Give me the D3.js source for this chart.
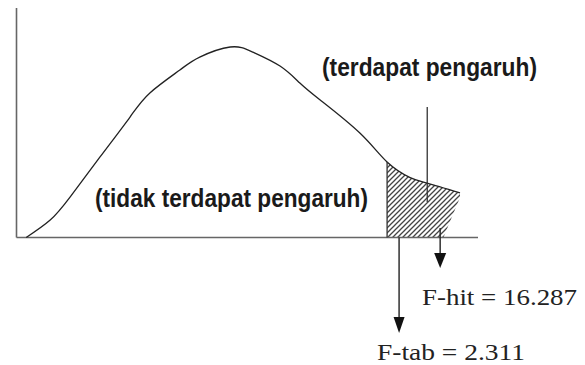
<!DOCTYPE html>
<html>
<head>
<meta charset="utf-8">
<script src="https://cdn.jsdelivr.net/npm/d3@7"></script>
<style>
  body { margin: 0; background: #fff; }
  svg { display: block; }
</style>
</head>
<body>
<div class="chart"></div>
<script>
// curve (x = position on the F axis, y = density, 0..100)
const CURVE_X = [0.21, 0.73, 1.16, 1.81, 2.46, 2.89, 3.54, 3.97, 4.63, 5.12, 5.71, 6.14, 6.58, 7.44, 8.03, 8.53, 8.90, 9.61];
const CURVE_Y = [0, 7.6, 17.6, 35.1, 52.5, 63.0, 73.0, 78.6, 83.0, 80.8, 74.7, 67.3, 59.9, 45.5, 32.9, 26.1, 23.7, 19.4];
const X_DOMAIN = [0, 10];
const Y_DOMAIN = [0, 100];

// critical value (start of hatched area), where the hatching stops, and the arrows
const F_CRIT_X = 8.03;
const HATCH_END = {top: 9.65, bottom: 9.25};
const F_TAB_ARROW = {x: 8.29, from: 0, to: -41.6};
const F_HIT_ARROW = {x: 9.18, from: 4.1, to: -13.3};
const POINTER_LINE = {x: 8.90, from: 56.9, to: 15.5};

const LABEL_ACCEPT = '(tidak terdapat pengaruh)';
const LABEL_REJECT = '(terdapat pengaruh)';
const LABEL_F_HIT = 'F-hit = 16.287';
const LABEL_F_TAB = 'F-tab = 2.311';

var width = 585, height = 365;

var svg = d3.select('.chart')
            .append('svg')
            .attr('width', width)
            .attr('height', height);

var x = d3.scaleLinear()
          .domain(X_DOMAIN)
          .range([16.5, 478]);

var y = d3.scaleLinear()
          .domain(Y_DOMAIN)
          .range([237.5, 8]);

var curveData = CURVE_X.map((d, i) => ({x: d, y: CURVE_Y[i]}));

var defs = svg.append('defs');

// hatch pattern for the rejection area
defs.append('pattern')
    .attr('id', 'hatch')
    .attr('patternUnits', 'userSpaceOnUse')
    .attr('width', 5)
    .attr('height', 5)
    .append('path')
    .attr('d', 'M-1,1 l2,-2 M0,5 l5,-5 M4,6 l2,-2')
    .attr('stroke', '#444')
    .attr('stroke-width', 1.3);

// only the tail right of the critical value gets hatched
defs.append('clipPath')
    .attr('id', 'tail')
    .append('polygon')
    .attr('points', [
      [x(F_CRIT_X), y(Y_DOMAIN[1])],
      [x(HATCH_END.top), y(Y_DOMAIN[1])],
      [x(HATCH_END.top), y(CURVE_Y[CURVE_Y.length - 1])],
      [x(HATCH_END.bottom), y(0)],
      [x(F_CRIT_X), y(0)]
    ].join(' '));

var area = d3.area()
             .x(d => x(d.x))
             .y0(y(0))
             .y1(d => y(d.y))
             .curve(d3.curveNatural);

svg.append('path')
   .datum(curveData)
   .attr('d', area)
   .attr('fill', 'url(#hatch)')
   .attr('clip-path', 'url(#tail)');

// axes (plain lines, no ticks)
svg.append('line')
   .attr('x1', x(X_DOMAIN[0])).attr('x2', x(X_DOMAIN[0]))
   .attr('y1', y(Y_DOMAIN[0])).attr('y2', y(Y_DOMAIN[1]))
   .attr('stroke', '#666').attr('stroke-width', 1.6);

svg.append('line')
   .attr('x1', x(X_DOMAIN[0])).attr('x2', x(X_DOMAIN[1]))
   .attr('y1', y(Y_DOMAIN[0])).attr('y2', y(Y_DOMAIN[0]))
   .attr('stroke', '#666').attr('stroke-width', 1.6);

// the curve
var line = d3.line()
             .x(d => x(d.x))
             .y(d => y(d.y))
             .curve(d3.curveNatural);

svg.append('path')
   .datum(curveData)
   .attr('d', line)
   .attr('fill', 'none')
   .attr('stroke', '#222')
   .attr('stroke-width', 1.3);

// vertical line at the critical value
svg.append('line')
   .attr('x1', x(F_CRIT_X)).attr('x2', x(F_CRIT_X))
   .attr('y1', y(0)).attr('y2', y(CURVE_Y[CURVE_X.indexOf(F_CRIT_X)]))
   .attr('stroke', '#333').attr('stroke-width', 1.3);

// pointer from "(terdapat pengaruh)"
svg.append('line')
   .attr('x1', x(POINTER_LINE.x)).attr('x2', x(POINTER_LINE.x))
   .attr('y1', y(POINTER_LINE.from)).attr('y2', y(POINTER_LINE.to))
   .attr('stroke', '#333').attr('stroke-width', 1.3);

// arrows down to the labels
function arrow(a, headW, headH) {
  var xp = x(a.x), y0 = y(a.from), y1 = y(a.to);
  svg.append('line')
     .attr('x1', xp).attr('x2', xp)
     .attr('y1', y0).attr('y2', y1 - headH + 1)
     .attr('stroke', '#222').attr('stroke-width', 1.4);
  svg.append('path')
     .attr('d', 'M' + (xp - headW / 2) + ',' + (y1 - headH) + 'L' + (xp + headW / 2) + ',' + (y1 - headH) + 'L' + xp + ',' + y1 + 'Z')
     .attr('fill', '#111');
}
arrow(F_TAB_ARROW, 11, 16);
arrow(F_HIT_ARROW, 12, 15);

// labels
svg.append('text')
   .attr('x', 95).attr('y', 207)
   .attr('textLength', 273).attr('lengthAdjust', 'spacingAndGlyphs')
   .style('font-family', '"Liberation Sans", Arial, sans-serif')
   .style('font-weight', 'bold').style('font-size', '25px')
   .attr('fill', '#1a1a1a')
   .text(LABEL_ACCEPT);

svg.append('text')
   .attr('x', 322).attr('y', 76)
   .attr('textLength', 215).attr('lengthAdjust', 'spacingAndGlyphs')
   .style('font-family', '"Liberation Sans", Arial, sans-serif')
   .style('font-weight', 'bold').style('font-size', '25px')
   .attr('fill', '#1a1a1a')
   .text(LABEL_REJECT);

svg.append('text')
   .attr('x', 422).attr('y', 305)
   .attr('textLength', 155).attr('lengthAdjust', 'spacingAndGlyphs')
   .style('font-family', '"Liberation Serif", "Times New Roman", serif')
   .style('font-size', '23px')
   .attr('fill', '#222')
   .text(LABEL_F_HIT);

svg.append('text')
   .attr('x', 377).attr('y', 360)
   .attr('textLength', 148).attr('lengthAdjust', 'spacingAndGlyphs')
   .style('font-family', '"Liberation Serif", "Times New Roman", serif')
   .style('font-size', '23px')
   .attr('fill', '#222')
   .text(LABEL_F_TAB);
</script>
</body>
</html>
